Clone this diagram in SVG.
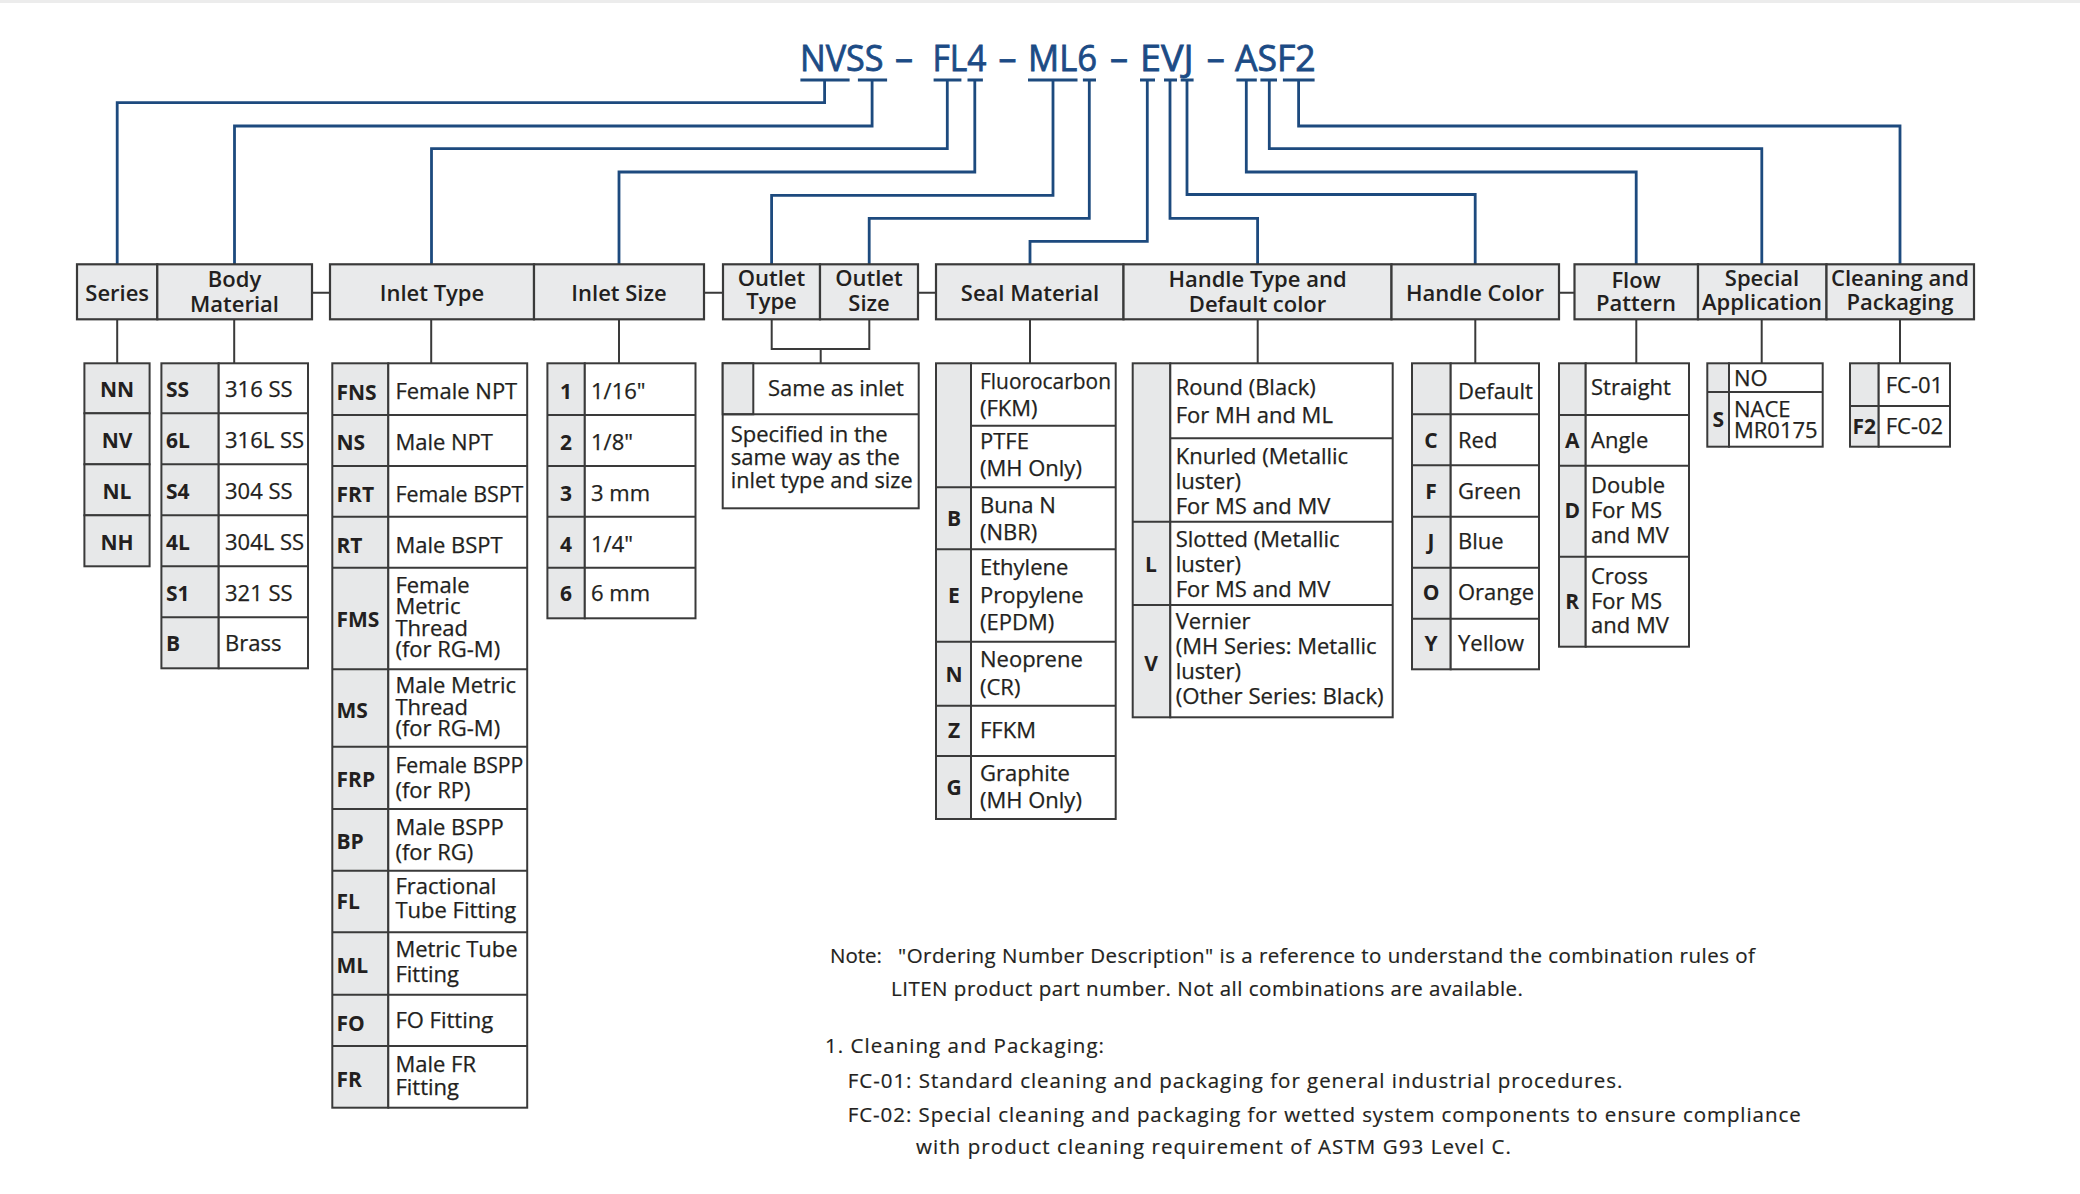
<svg xmlns="http://www.w3.org/2000/svg" width="2080" height="1194" viewBox="0 0 2080 1194">
<style>
.bg{fill:#ffffff}
.hd{fill:#e9eaeb;stroke:#3a3a3a;stroke-width:2.2}
.w{fill:#ffffff;stroke:#3a3a3a;stroke-width:2}
.k{fill:#e7e8e9;stroke:#3a3a3a;stroke-width:2}
.ln{fill:none;stroke:#3a3a3a;stroke-width:2}
.bl{fill:none;stroke:#1d4a7e;stroke-width:2.8;stroke-linejoin:miter;stroke-linecap:butt}
.ht{font-family:'Open Sans','Liberation Sans',sans-serif;font-weight:600;font-size:22px;fill:#231f20;text-anchor:middle}
.t{font-family:'Open Sans','Liberation Sans',sans-serif;font-size:22px;fill:#231f20;stroke:#231f20;stroke-width:0.25}
.tc{font-family:'Open Sans','Liberation Sans',sans-serif;font-size:22px;fill:#231f20;stroke:#231f20;stroke-width:0.25;text-anchor:middle}
.c{font-family:'Open Sans','Liberation Sans',sans-serif;font-weight:700;font-size:21px;fill:#231f20}
.cm{font-family:'Open Sans','Liberation Sans',sans-serif;font-weight:700;font-size:21px;fill:#231f20;text-anchor:middle}
.ti{font-family:'Open Sans','Liberation Sans',sans-serif;font-size:36px;fill:#1c4b85;stroke:#1c4b85;stroke-width:0.8}
.n{font-family:'Open Sans','Liberation Sans',sans-serif;font-size:20.5px;fill:#231f20;stroke:#231f20;stroke-width:0.2}
</style>
<rect class="bg" x="0" y="0" width="2080" height="1194"/>
<rect x="0" y="0" width="2080" height="3" fill="#ececec"/>

<g id="title">
<text class="ti" x="800" y="71" textLength="83.6" lengthAdjust="spacingAndGlyphs">NVSS</text>
<text class="ti" x="895" y="71">–</text>
<text class="ti" x="932.5" y="71" textLength="54" lengthAdjust="spacingAndGlyphs">FL4</text>
<text class="ti" x="998.6" y="71">–</text>
<text class="ti" x="1028" y="71" textLength="69" lengthAdjust="spacingAndGlyphs">ML6</text>
<text class="ti" x="1110" y="71">–</text>
<text class="ti" x="1140" y="71" textLength="53.6" lengthAdjust="spacingAndGlyphs">EVJ</text>
<text class="ti" x="1206.8" y="71">–</text>
<text class="ti" x="1235" y="71" textLength="80.7" lengthAdjust="spacingAndGlyphs">ASF2</text>
</g>

<g id="connectors">
<g class="bl">
<path d="M800.4,80H849.6M857.9,80H887.1M933.6,80H961.4M967.5,80H982.9M1028,80H1077.5M1082.9,80H1096M1140,80H1155M1164,80H1177M1180.7,80H1193.6M1236.4,80H1256.8M1260.4,80H1277M1282.9,80H1314.6"/>
<path d="M824.6,80V102.7H117.2V264"/>
<path d="M872.1,80V126H234.5V264"/>
<path d="M947.3,80V148.7H431.5V264"/>
<path d="M974.8,80V172H619V264"/>
<path d="M1053,80V195.3H771.6V264"/>
<path d="M1089.3,80V218.3H869.2V264"/>
<path d="M1147.3,80V241.3H1030V264"/>
<path d="M1170,80V218.3H1257.6V264"/>
<path d="M1187,80V194.5H1475.2V264"/>
<path d="M1246.3,80V172H1636.2V264"/>
<path d="M1269.3,80V148.7H1761.8V264"/>
<path d="M1298.6,80V126H1900V264"/>
</g>
<g class="ln">
<path d="M312,292.7H330M704,292.7H723M918,292.7H936M1559,292.7H1574.5"/>
<path d="M117.2,319.3V363.3M234.2,319.3V363.3M431.2,319.3V363.3M619,319.3V363.3"/>
<path d="M771.7,319.3V349H869.3V319.3M820.7,349V363.3"/>
<path d="M1030,319.3V363.3M1257.7,319.3V363.3M1475.3,319.3V363.3M1636.3,319.3V363.3M1761.7,319.3V363.3M1900,319.3V363.3"/>
</g>
</g>

<g id="headers">
<rect class="hd" x="77" y="264.3" width="80.3" height="55"/>
<rect class="hd" x="157.3" y="264.3" width="154.7" height="55"/>
<rect class="hd" x="330" y="264.3" width="204" height="55"/>
<rect class="hd" x="534" y="264.3" width="170" height="55"/>
<rect class="hd" x="723" y="264.3" width="97" height="55"/>
<rect class="hd" x="820" y="264.3" width="98" height="55"/>
<rect class="hd" x="936" y="264.3" width="187.5" height="55"/>
<rect class="hd" x="1123.5" y="264.3" width="268" height="55"/>
<rect class="hd" x="1391.5" y="264.3" width="167.5" height="55"/>
<rect class="hd" x="1574.5" y="264.3" width="123.5" height="55"/>
<rect class="hd" x="1698" y="264.3" width="128.5" height="55"/>
<rect class="hd" x="1826.5" y="264.3" width="147.5" height="55"/>
<text class="ht" x="117.2" y="300.5">Series</text>
<text class="ht" x="234.5" y="287">Body</text>
<text class="ht" x="234.5" y="311.5">Material</text>
<text class="ht" x="432" y="300.5">Inlet Type</text>
<text class="ht" x="619" y="300.5">Inlet Size</text>
<text class="ht" x="771.5" y="286">Outlet</text>
<text class="ht" x="771.5" y="309">Type</text>
<text class="ht" x="869" y="286">Outlet</text>
<text class="ht" x="869" y="310.5">Size</text>
<text class="ht" x="1030" y="300.5">Seal Material</text>
<text class="ht" x="1257.5" y="287">Handle Type and</text>
<text class="ht" x="1257.5" y="311.5">Default color</text>
<text class="ht" x="1475" y="300.5">Handle Color</text>
<text class="ht" x="1636" y="288">Flow</text>
<text class="ht" x="1636" y="310.5">Pattern</text>
<text class="ht" x="1762" y="286">Special</text>
<text class="ht" x="1762" y="309.5">Application</text>
<text class="ht" x="1900" y="286">Cleaning and</text>
<text class="ht" x="1900" y="309.5">Packaging</text>
</g>

<g id="opt-series">
<rect class="k" x="84.4" y="363.3" width="65.2" height="50"/>
<rect class="k" x="84.4" y="413.3" width="65.2" height="51"/>
<rect class="k" x="84.4" y="464.3" width="65.2" height="51"/>
<rect class="k" x="84.4" y="515.3" width="65.2" height="51"/>
<text class="cm" x="117" y="397.3">NN</text>
<text class="cm" x="117" y="447.8">NV</text>
<text class="cm" x="117" y="498.8">NL</text>
<text class="cm" x="117" y="549.8">NH</text>
</g>

<g id="opt-body">
<rect class="k" x="161.4" y="363.3" width="57.3" height="305"/>
<rect class="w" x="218.7" y="363.3" width="89.3" height="305"/>
<path class="ln" d="M161.4,413.3H308M161.4,464.3H308M161.4,515.3H308M161.4,566.3H308M161.4,617.3H308"/>
<text class="c" x="166" y="397.3">SS</text><text class="t" x="225" y="397.3">316 SS</text>
<text class="c" x="166" y="447.8">6L</text><text class="t" x="225" y="447.8">316L SS</text>
<text class="c" x="166" y="498.8">S4</text><text class="t" x="225" y="498.8">304 SS</text>
<text class="c" x="166" y="549.8">4L</text><text class="t" x="225" y="549.8">304L SS</text>
<text class="c" x="166" y="600.8">S1</text><text class="t" x="225" y="600.8">321 SS</text>
<text class="c" x="166" y="651.3">B</text><text class="t" x="225" y="651.3">Brass</text>
</g>

<g id="opt-inlet-type">
<rect class="k" x="332.3" y="363.3" width="56" height="744.4"/>
<rect class="w" x="388.3" y="363.3" width="138.9" height="744.4"/>
<path class="ln" d="M332.3,415H527.2M332.3,466H527.2M332.3,516.7H527.2M332.3,567.7H527.2M332.3,669.3H527.2M332.3,746.7H527.2M332.3,809H527.2M332.3,870.7H527.2M332.3,932.3H527.2M332.3,994.7H527.2M332.3,1046H527.2"/>
<text class="c" x="336.5" y="400">FNS</text><text class="t" x="395.4" y="399.3">Female NPT</text>
<text class="c" x="336.5" y="450">NS</text><text class="t" x="395.4" y="450">Male NPT</text>
<text class="c" x="336.5" y="501.7">FRT</text><text class="t" x="395.4" y="501.7" textLength="128" lengthAdjust="spacingAndGlyphs">Female BSPT</text>
<text class="c" x="336.5" y="552.7">RT</text><text class="t" x="395.4" y="552.7">Male BSPT</text>
<text class="c" x="336.5" y="627.3">FMS</text>
<text class="t" x="395.4" y="592.5">Female</text>
<text class="t" x="395.4" y="614">Metric</text>
<text class="t" x="395.4" y="635.5">Thread</text>
<text class="t" x="395.4" y="657">(for RG-M)</text>
<text class="c" x="336.5" y="717.7">MS</text>
<text class="t" x="395.4" y="692.7">Male Metric</text>
<text class="t" x="395.4" y="714.5">Thread</text>
<text class="t" x="395.4" y="736.3">(for RG-M)</text>
<text class="c" x="336.5" y="786.7">FRP</text>
<text class="t" x="395.4" y="772.7" textLength="128" lengthAdjust="spacingAndGlyphs">Female BSPP</text>
<text class="t" x="395.4" y="797.5">(for RP)</text>
<text class="c" x="336.5" y="849">BP</text>
<text class="t" x="395.4" y="835">Male BSPP</text>
<text class="t" x="395.4" y="860">(for RG)</text>
<text class="c" x="336.5" y="909.3">FL</text>
<text class="t" x="395.4" y="894">Fractional</text>
<text class="t" x="395.4" y="918.3">Tube Fitting</text>
<text class="c" x="336.5" y="972.7">ML</text>
<text class="t" x="395.4" y="956.7">Metric Tube</text>
<text class="t" x="395.4" y="981.7">Fitting</text>
<text class="c" x="336.5" y="1031">FO</text>
<text class="t" x="395.4" y="1028.3">FO Fitting</text>
<text class="c" x="336.5" y="1086.7">FR</text>
<text class="t" x="395.4" y="1071.7">Male FR</text>
<text class="t" x="395.4" y="1095">Fitting</text>
</g>

<g id="opt-inlet-size">
<rect class="k" x="547.4" y="363.3" width="37.4" height="255"/>
<rect class="w" x="584.8" y="363.3" width="110.7" height="255"/>
<path class="ln" d="M547.4,415H695.5M547.4,466H695.5M547.4,516.7H695.5M547.4,567.7H695.5"/>
<text class="cm" x="566" y="399.3">1</text><text class="t" x="591" y="399.3">1/16"</text>
<text class="cm" x="566" y="450">2</text><text class="t" x="591" y="450">1/8"</text>
<text class="cm" x="566" y="501">3</text><text class="t" x="591" y="501">3 mm</text>
<text class="cm" x="566" y="551.7">4</text><text class="t" x="591" y="551.7">1/4"</text>
<text class="cm" x="566" y="600.7">6</text><text class="t" x="591" y="600.7">6 mm</text>
</g>

<g id="opt-outlet">
<rect class="w" x="722.7" y="363.3" width="196" height="145"/>
<rect class="k" x="722.7" y="363.3" width="30.6" height="51"/>
<path class="ln" d="M722.7,414.3H918.7"/>
<text class="tc" x="836" y="396">Same as inlet</text>
<text class="t" x="730.7" y="442.3">Specified in the</text>
<text class="t" x="730.7" y="465.3">same way as the</text>
<text class="t" x="730.7" y="488.3" textLength="182" lengthAdjust="spacingAndGlyphs">inlet type and size</text>
</g>

<g id="opt-seal">
<rect class="k" x="936" y="363.3" width="35" height="455.7"/>
<rect class="w" x="971" y="363.3" width="144.7" height="455.7"/>
<path class="ln" d="M971,425.7H1115.7M936,487.3H1115.7M936,549.3H1115.7M936,641.7H1115.7M936,705.7H1115.7M936,756H1115.7"/>
<text class="t" x="980" y="389.3" textLength="131" lengthAdjust="spacingAndGlyphs">Fluorocarbon</text>
<text class="t" x="980" y="416.3">(FKM)</text>
<text class="t" x="980" y="449.3">PTFE</text>
<text class="t" x="980" y="476.3">(MH Only)</text>
<text class="cm" x="954" y="526">B</text>
<text class="t" x="980" y="512.7">Buna N</text>
<text class="t" x="980" y="540">(NBR)</text>
<text class="cm" x="954" y="603.3">E</text>
<text class="t" x="980" y="575">Ethylene</text>
<text class="t" x="980" y="602.7">Propylene</text>
<text class="t" x="980" y="630">(EPDM)</text>
<text class="cm" x="954" y="681.7">N</text>
<text class="t" x="980" y="667.3">Neoprene</text>
<text class="t" x="980" y="695">(CR)</text>
<text class="cm" x="954" y="738.3">Z</text>
<text class="t" x="980" y="738.3">FFKM</text>
<text class="cm" x="954" y="795">G</text>
<text class="t" x="980" y="781">Graphite</text>
<text class="t" x="980" y="808.3">(MH Only)</text>
</g>

<g id="opt-handle-type">
<rect class="k" x="1132.7" y="363.3" width="37.6" height="354"/>
<rect class="w" x="1170.3" y="363.3" width="222.4" height="354"/>
<path class="ln" d="M1170.3,438.3H1392.7M1132.7,521.7H1392.7M1132.7,605H1392.7"/>
<text class="t" x="1175.7" y="395">Round (Black)</text>
<text class="t" x="1175.7" y="422.7">For MH and ML</text>
<text class="t" x="1175.7" y="464">Knurled (Metallic</text>
<text class="t" x="1175.7" y="489">luster)</text>
<text class="t" x="1175.7" y="514">For MS and MV</text>
<text class="cm" x="1151" y="571.7">L</text>
<text class="t" x="1175.7" y="546.7">Slotted (Metallic</text>
<text class="t" x="1175.7" y="571.7">luster)</text>
<text class="t" x="1175.7" y="596.7">For MS and MV</text>
<text class="cm" x="1151" y="671">V</text>
<text class="t" x="1175.7" y="629.3">Vernier</text>
<text class="t" x="1175.7" y="654.3">(MH Series: Metallic</text>
<text class="t" x="1175.7" y="679.3">luster)</text>
<text class="t" x="1175.7" y="704.3" textLength="208" lengthAdjust="spacingAndGlyphs">(Other Series: Black)</text>
</g>

<g id="opt-handle-color">
<rect class="k" x="1412" y="363.3" width="38.7" height="306"/>
<rect class="w" x="1450.7" y="363.3" width="88.3" height="306"/>
<path class="ln" d="M1412,414.3H1539M1412,465.3H1539M1412,516.7H1539M1412,567.7H1539M1412,618.7H1539"/>
<text class="t" x="1458" y="399.3">Default</text>
<text class="cm" x="1431" y="448.3">C</text><text class="t" x="1458" y="448.3">Red</text>
<text class="cm" x="1431" y="499.3">F</text><text class="t" x="1458" y="499.3">Green</text>
<text class="cm" x="1431" y="549.3">J</text><text class="t" x="1458" y="549.3">Blue</text>
<text class="cm" x="1431" y="600">O</text><text class="t" x="1458" y="600">Orange</text>
<text class="cm" x="1431" y="650.7">Y</text><text class="t" x="1458" y="650.7">Yellow</text>
</g>

<g id="opt-flow">
<rect class="k" x="1559" y="363.3" width="26.7" height="283.4"/>
<rect class="w" x="1585.7" y="363.3" width="103.3" height="283.4"/>
<path class="ln" d="M1559,415H1689M1559,465.7H1689M1559,556.7H1689"/>
<text class="t" x="1591" y="395">Straight</text>
<text class="cm" x="1572.3" y="448">A</text><text class="t" x="1591" y="448.3">Angle</text>
<text class="cm" x="1572.3" y="518.3">D</text>
<text class="t" x="1591" y="493.3">Double</text>
<text class="t" x="1591" y="518.3">For MS</text>
<text class="t" x="1591" y="543.3">and MV</text>
<text class="cm" x="1572.3" y="609.3">R</text>
<text class="t" x="1591" y="584.3">Cross</text>
<text class="t" x="1591" y="609.3">For MS</text>
<text class="t" x="1591" y="633.3">and MV</text>
</g>

<g id="opt-special">
<rect class="k" x="1707.3" y="363.3" width="21.7" height="83.4"/>
<rect class="w" x="1729" y="363.3" width="93.7" height="83.4"/>
<path class="ln" d="M1707.3,392H1822.7"/>
<text class="t" x="1734" y="386">NO</text>
<text class="cm" x="1718.2" y="426.7">S</text>
<text class="t" x="1734" y="416.7">NACE</text>
<text class="t" x="1734" y="437.7">MR0175</text>
</g>

<g id="opt-cleaning">
<rect class="k" x="1850" y="363.3" width="28.7" height="83.4"/>
<rect class="w" x="1878.7" y="363.3" width="71.3" height="83.4"/>
<path class="ln" d="M1850,406H1950"/>
<text class="t" x="1885.7" y="393.3">FC-01</text>
<text class="cm" x="1864.3" y="434.3">F2</text>
<text class="t" x="1885.7" y="434.3">FC-02</text>
</g>

<g id="notes">
<text class="n" x="830" y="963.3">Note:</text>
<text class="n" x="898" y="963.3" textLength="857">"Ordering Number Description" is a reference to understand the combination rules of</text>
<text class="n" x="891" y="996" textLength="632">LITEN product part number. Not all combinations are available.</text>
<text class="n" x="825" y="1053.3" textLength="279">1. Cleaning and Packaging:</text>
<text class="n" x="847.7" y="1087.7" textLength="774.6">FC-01: Standard cleaning and packaging for general industrial procedures.</text>
<text class="n" x="847.7" y="1121.7" textLength="953">FC-02: Special cleaning and packaging for wetted system components to ensure compliance</text>
<text class="n" x="916" y="1154.3" textLength="595">with product cleaning requirement of ASTM G93 Level C.</text>
</g>
</svg>
